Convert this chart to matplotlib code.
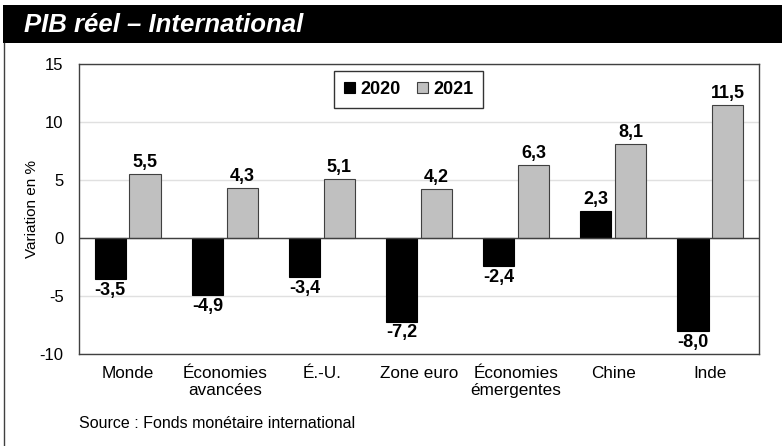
import matplotlib
matplotlib.use("Agg")
import matplotlib.pyplot as plt
import numpy as np
from matplotlib.patches import Rectangle
from matplotlib.lines import Line2D

plt.rcParams['font.family'] = ['Liberation Sans', 'DejaVu Sans']

categories = ["Monde", "Économies\navancées", "É.-U.", "Zone euro", "Économies\némergentes", "Chine", "Inde"]
series_names = ["2020", "2021"]
values_2020 = [-3.5, -4.9, -3.4, -7.2, -2.4, 2.3, -8.0]
values_2021 = [5.5, 4.3, 5.1, 4.2, 6.3, 8.1, 11.5]
yticks = [-10, -5, 0, 5, 10, 15]

W, H = 782, 446
fig = plt.figure(figsize=(W / 100, H / 100), dpi=100)

# title band
fig.patches.append(Rectangle((3 / W, 1 - 43 / H), 1 - 3 / W, 38 / H, transform=fig.transFigure,
                             facecolor='black', edgecolor='none', zorder=0))
fig.text(24 / W, 1 - 25 / H, "PIB réel – International", color='white', fontsize=18.5,
         fontweight='bold', fontstyle='italic', va='center', ha='left')
fig.lines.append(Line2D([3.5 / W, 3.5 / W], [0, 1 - 43 / H], transform=fig.transFigure,
                        color='#404040', lw=1))

ax = fig.add_axes([79 / W, 1 - 354 / H, (759 - 79) / W, (354 - 64) / H])
x = np.arange(len(categories))
bw = 0.32
off = 0.179
ax.bar(x - off, values_2020, bw, color='black', edgecolor='black', lw=0.8, label=series_names[0], zorder=3)
ax.bar(x + off, values_2021, bw, color='#c0c0c0', edgecolor='#404040', lw=0.8, label=series_names[1], zorder=3)

def fmt(v):
    return f"{v:.1f}".replace('.', ',')

for xs, vals in ((x - off, values_2020), (x + off, values_2021)):
    for xi, v in zip(xs, vals):
        if v >= 0:
            ax.text(xi, v + 0.25, fmt(v), ha='center', va='bottom', fontsize=13, fontweight='bold')
        else:
            ax.text(xi, v - 0.25, fmt(v), ha='center', va='top', fontsize=13, fontweight='bold')

ax.set_xlim(-0.5, len(categories) - 0.5)
ax.set_ylim(-10, 15)
ax.set_yticks(yticks)
ax.set_yticklabels([str(t) for t in yticks], fontsize=12)
ax.set_xticks(x)
ax.set_xticklabels(categories, fontsize=12.3, linespacing=1.1)
ax.tick_params(axis='x', length=0, pad=9)
ax.tick_params(axis='y', length=0, pad=11)
ax.yaxis.grid(True, color='#e0e0e0', lw=1, zorder=0)
ax.axhline(0, color='#404040', lw=1, zorder=4)
for s in ax.spines.values():
    s.set_color('#404040')
    s.set_linewidth(1)
ax.set_ylabel("Variation en %", fontsize=11)
ax.yaxis.set_label_coords((39 - 79) / 680, 0.5)

leg = ax.legend(loc='upper center', bbox_to_anchor=((408.5 - 79) / 680, 1 - 7 / 290), ncol=2, frameon=True,
                fancybox=False, edgecolor='black', prop={'weight': 'bold', 'size': 13},
                handlelength=0.6, handleheight=0.6, handletextpad=0.3, columnspacing=0.9,
                borderpad=0.55, borderaxespad=0)
leg.get_frame().set_linewidth(1)

fig.text(79 / W, 1 - 424 / H, "Source : Fonds monétaire international", fontsize=11.5, va='center', ha='left')

fig.savefig("out.png", dpi=100)
